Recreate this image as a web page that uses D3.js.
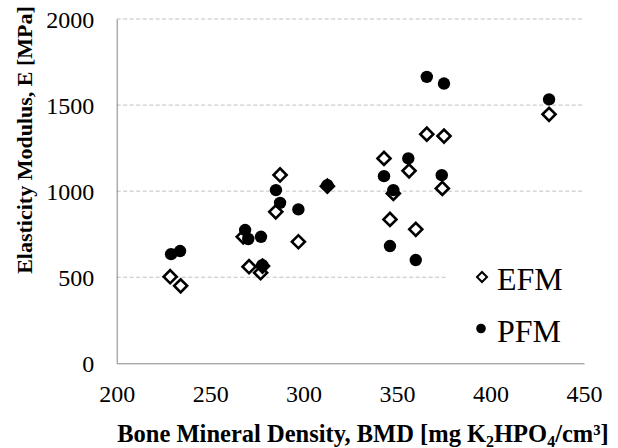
<!DOCTYPE html>
<html>
<head>
<meta charset="utf-8">
<script src="https://cdn.jsdelivr.net/npm/d3@7"></script>
<style>
  html, body { margin: 0; padding: 0; background: #fff; }
  svg { display: block; }
  svg text { font-family: "Liberation Serif", "Times New Roman", Times, serif !important; fill: #000; }
</style>
</head>
<body>
<svg id="chart" width="618" height="448"></svg>
<script>
// ---- data ----
const efmBMD = [228.6, 234.2, 267.7, 270.8, 277.0, 278.0, 285.1, 287.4, 297.2, 312.7, 343.0, 346.2, 348.0, 356.4, 360.0, 365.9, 374.2, 375.1, 431.3];
const efmE   = [503, 450, 735, 561, 526, 565, 880, 1094, 706, 1029, 1190, 836, 987, 1118, 778, 1331, 1016, 1320, 1446];
const pfmBMD = [229.1, 233.9, 268.7, 270.4, 277.2, 277.9, 285.2, 287.4, 297.2, 312.7, 343.0, 346.2, 348.0, 356.0, 360.0, 365.9, 373.9, 375.1, 431.3];
const pfmE   = [634, 652, 774, 722, 735, 570, 1006, 932, 894, 1035, 1087, 681, 1006, 1190, 600, 1664, 1093, 1625, 1533];
const xTicks = [200, 250, 300, 350, 400, 450];
const yTicks = [0, 500, 1000, 1500, 2000];
const seriesNames = ["EFM", "PFM"];

const serif = '"Liberation Serif", "Times New Roman", serif';
const svg = d3.select("#chart");
const x = d3.scaleLinear().domain([200, 450]).range([116.7, 584]);
const y = d3.scaleLinear().domain([0, 2000]).range([363.3, 19]);

// gridlines
svg.append("g").selectAll("line").data(yTicks.filter(d => d > 0)).join("line")
  .attr("x1", x(200)).attr("x2", x(450))
  .attr("y1", d => y(d)).attr("y2", d => y(d))
  .attr("stroke", "#c0c0c0").attr("stroke-width", 1).attr("stroke-dasharray", "4,2.5");

// axes
const yAxis = d3.axisLeft(y).tickValues(yTicks).tickSize(0).tickPadding(22.5).tickFormat(d3.format("d"));
const gy = svg.append("g").attr("transform", `translate(${x(200)},0)`).call(yAxis)
  .attr("font-family", serif).attr("font-size", 24);
gy.select(".domain").attr("stroke", "#868686");
gy.selectAll("text").attr("font-family", serif).attr("font-size", 24).attr("dy", "0.34em");

const xAxis = d3.axisBottom(x).tickValues(xTicks).tickSize(0).tickPadding(22).tickFormat(d3.format("d"));
const gx = svg.append("g").attr("transform", `translate(0,${y(0)})`).call(xAxis)
  .attr("font-family", serif).attr("font-size", 24);
gx.select(".domain").attr("stroke", "#868686");
gx.selectAll("text").attr("font-family", serif).attr("font-size", 24).attr("dy", "0.68em");

// points
const efm = efmBMD.map((v, i) => ({ x: v, y: efmE[i] }));
const pfm = pfmBMD.map((v, i) => ({ x: v, y: pfmE[i] }));
const diamond = d3.symbol(d3.symbolSquare, 85);
svg.append("g").selectAll("path").data(efm).join("path")
  .attr("d", diamond)
  .attr("transform", d => `translate(${x(d.x)},${y(d.y)}) rotate(45)`)
  .attr("fill", "#fff").attr("stroke", "#000").attr("stroke-width", 2.6);
svg.append("g").selectAll("circle").data(pfm).join("circle")
  .attr("cx", d => x(d.x)).attr("cy", d => y(d.y)).attr("r", 6.2)
  .attr("fill", "#000");

// legend
const lg = svg.append("g");
lg.append("rect").attr("x", 448).attr("y", 250).attr("width", 138).attr("height", 100).attr("fill", "#fff");
lg.append("path").attr("d", d3.symbol(d3.symbolSquare, 50))
  .attr("transform", "translate(482,277) rotate(45)")
  .attr("fill", "#fff").attr("stroke", "#000").attr("stroke-width", 2);
lg.append("circle").attr("cx", 481).attr("cy", 328.5).attr("r", 4.8).attr("fill", "#000");
lg.append("text").attr("x", 497).attr("y", 289.5).attr("font-size", 32).text(seriesNames[0]);
lg.append("text").attr("x", 497).attr("y", 341.5).attr("font-size", 32).text(seriesNames[1]);

// axis titles
const xt = svg.append("text").attr("x", 363).attr("y", 441.5).attr("text-anchor", "middle")
  .attr("font-size", 24.5).attr("font-weight", "bold");
xt.append("tspan").text("Bone Mineral Density, BMD [mg K");
xt.append("tspan").attr("dy", 5).attr("font-size", 16).text("2");
xt.append("tspan").attr("dy", -5).text("HPO");
xt.append("tspan").attr("dy", 5).attr("font-size", 16).text("4");
xt.append("tspan").attr("dy", -5).text("/cm³]");

svg.append("text").attr("transform", "translate(32,140) rotate(-90)").attr("text-anchor", "middle")
  .attr("font-size", 22).attr("font-weight", "bold")
  .text("Elasticity Modulus, E [MPa]");
</script>
</body>
</html>
